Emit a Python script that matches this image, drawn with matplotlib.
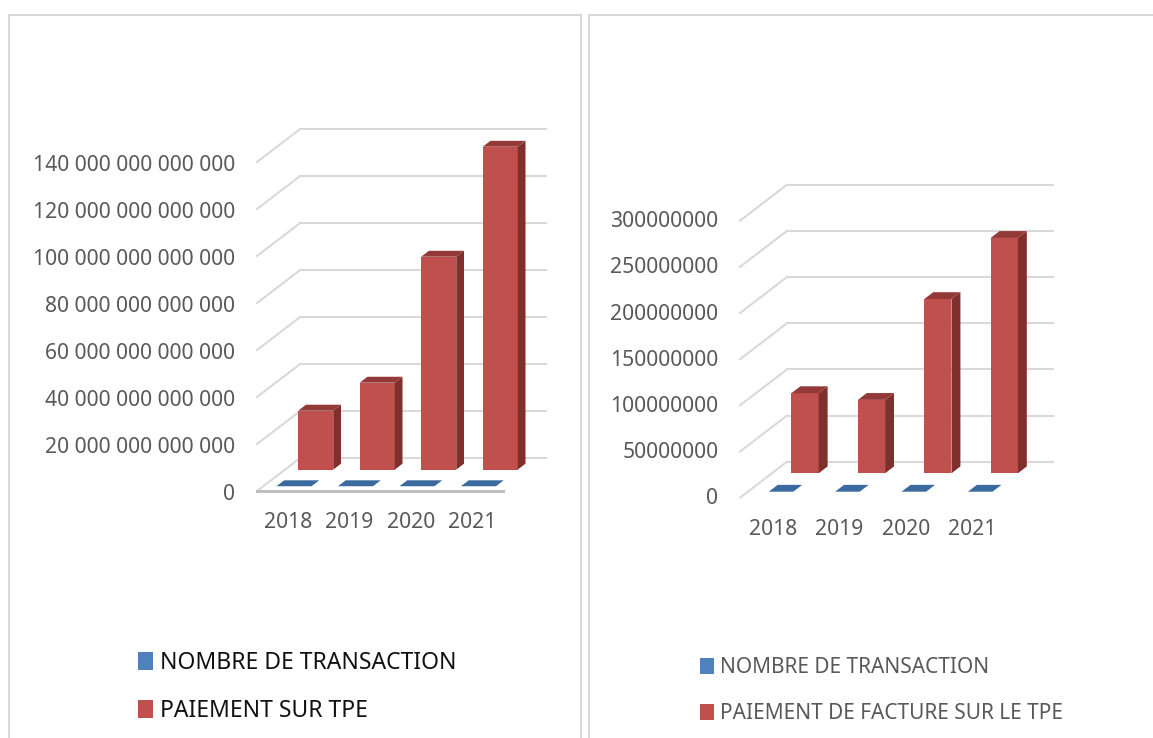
import matplotlib
matplotlib.use('Agg')
import matplotlib.pyplot as plt
from matplotlib.lines import Line2D
from matplotlib.patches import Patch, Polygon
from matplotlib.transforms import ScaledTranslation
import numpy as np

W, H = 1153, 738

years = ['2018', '2019', '2020', '2021']

# left chart
tx_left = [0, 0, 0, 0]
tpe_left = [25.1e12, 37.0e12, 90.6e12, 137.4e12]
ticks_left = [0, 20e12, 40e12, 60e12, 80e12, 100e12, 120e12, 140e12]
ticklabels_left = ['0', '20 000 000 000 000', '40 000 000 000 000', '60 000 000 000 000',
                   '80 000 000 000 000', '100 000 000 000 000', '120 000 000 000 000',
                   '140 000 000 000 000']
names_left = ['NOMBRE DE TRANSACTION', 'PAIEMENT SUR TPE']

# right chart
tx_right = [0, 0, 0, 0]
facture_right = [86.8e6, 79.5e6, 188.7e6, 254.9e6]
ticks_right = [0, 50e6, 100e6, 150e6, 200e6, 250e6, 300e6]
ticklabels_right = ['0', '50000000', '100000000', '150000000', '200000000', '250000000', '300000000']
names_right = ['NOMBRE DE TRANSACTION', 'PAIEMENT DE FACTURE SUR LE TPE']

GRID = '#D9D9D9'
TEXT = '#595959'
BLUE = ('#4F81BD', '#3A6A9E')
RED = '#C0504D'
RED_SIDE = '#7F302D'
RED_TOP = '#933A38'

plt.rcParams['font.family'] = 'Noto Sans'


def px_axes(fig, left, right, top, bottom):
    return fig.add_axes([left / W, 1 - bottom / H, (right - left) / W, (bottom - top) / H])


def draw_panel(ax, tx, vals, ticks, ticklabels, shift, wall_right, d_blue, d_red, thick, w_blue, w_red, label_dy):
    # shift = (x, y) offset of the back wall, in data units
    n = len(years)
    x = np.arange(n)
    sx, sy = shift
    ax.set_xlim(-0.5, n - 0.5)
    ax.set_ylim(ticks[0], ticks[-1])
    for s in ax.spines.values():
        s.set_visible(False)
    ax.patch.set_visible(False)

    # back wall gridlines and the diagonals on the side wall
    for t in ticks:
        ax.plot([-0.5 + sx, wall_right], [t + sy, t + sy], color=GRID, lw=1.5, clip_on=False, zorder=1)
        ax.plot([-0.5, -0.5 + sx], [t, t + sy], color=GRID, lw=1.5, clip_on=False, zorder=1)

    def box(xc, v, d, width, cols):
        x0 = xc - width / 2 + sx * d
        x1 = xc + width / 2 + sx * d
        y0 = sy * d
        y1 = y0 + v
        ddx = sx * thick
        ddy = sy * thick
        if v > 0:
            ax.bar(x0, v, width=width, bottom=y0, align='edge', color=cols[0], clip_on=False, zorder=3)
            ax.add_patch(Polygon([(x1, y0), (x1 + ddx, y0 + ddy), (x1 + ddx, y1 + ddy), (x1, y1)],
                                 closed=True, color=cols[1], lw=0, clip_on=False, zorder=3))
        ax.add_patch(Polygon([(x0, y1), (x1, y1), (x1 + ddx, y1 + ddy), (x0 + ddx, y1 + ddy)],
                             closed=True, color=cols[2], lw=0, clip_on=False, zorder=3))

    for i in x:
        box(i, vals[i], d_red, w_red, (RED, RED_SIDE, RED_TOP))
        box(i, tx[i], d_blue, w_blue, (BLUE[0], BLUE[1], BLUE[1]))

    ax.set_yticks(ticks)
    ax.set_yticklabels(ticklabels)
    ax.set_xticks(x)
    ax.set_xticklabels(years)
    ax.tick_params(axis='y', length=0, pad=15.5, labelsize=15.2, labelcolor=TEXT)
    ax.tick_params(axis='x', length=0, pad=15, labelsize=15.2, labelcolor=TEXT)
    # small nudge of the value labels
    nudge = ScaledTranslation(0, label_dy / 100, fig.dpi_scale_trans)
    for lab in ax.get_yticklabels():
        lab.set_transform(lab.get_transform() + nudge)


def px_legend(fig, names, x, y, size, color, spacing, hl, hh):
    handles = [Patch(color=BLUE[0], lw=0), Patch(color=RED, lw=0)]
    fig.legend(handles, names, loc='upper left', bbox_to_anchor=(x / W, 1 - y / H), frameon=False,
               fontsize=size, labelcolor=color, handlelength=hl, handleheight=hh,
               handletextpad=0.3, labelspacing=spacing, borderpad=0, borderaxespad=0)


fig = plt.figure(figsize=(W / 100, H / 100), dpi=100, facecolor='white')

# panel frames
frames = [((9, 9), (738, 15)), ((9, 581), (15, 15)), ((581, 581), (15, 738)),
          ((589, 589), (738, 15)), ((589, 1153), (15, 15))]
for fx, fy in frames:
    fig.add_artist(Line2D([v / W for v in fx], [1 - v / H for v in fy], color=GRID, lw=1.5))

ax1 = px_axes(fig, 257, 503, 162, 491)
draw_panel(ax1, tx_left, tpe_left, ticks_left, ticklabels_left,
           shift=(0.70, 14e12), wall_right=3.5 + 0.70,
           d_blue=0.145, d_red=0.65, thick=0.18, w_blue=0.57, w_red=0.57, label_dy=-1)
# floor front edge, only on the left chart
ax1.plot([-0.5, 3.5], [0, 0], color='#BFBFBF', lw=2.2, clip_on=False, zorder=2)

ax2 = px_axes(fig, 740, 1005.6, 220.7, 497.7)
draw_panel(ax2, tx_right, facture_right, ticks_right, ticklabels_right,
           shift=(0.708, 39e6), wall_right=3.5 + 0.708,
           d_blue=0.167, d_red=0.678, thick=0.19, w_blue=0.37, w_red=0.41, label_dy=1.5)

px_legend(fig, names_left, 138, 651, 16.5, '#111111', 1.04, 0.66, 0.8)
px_legend(fig, names_right, 700, 657, 15, TEXT, 1.2, 0.67, 0.8)

fig.savefig('out.png', dpi=100)
